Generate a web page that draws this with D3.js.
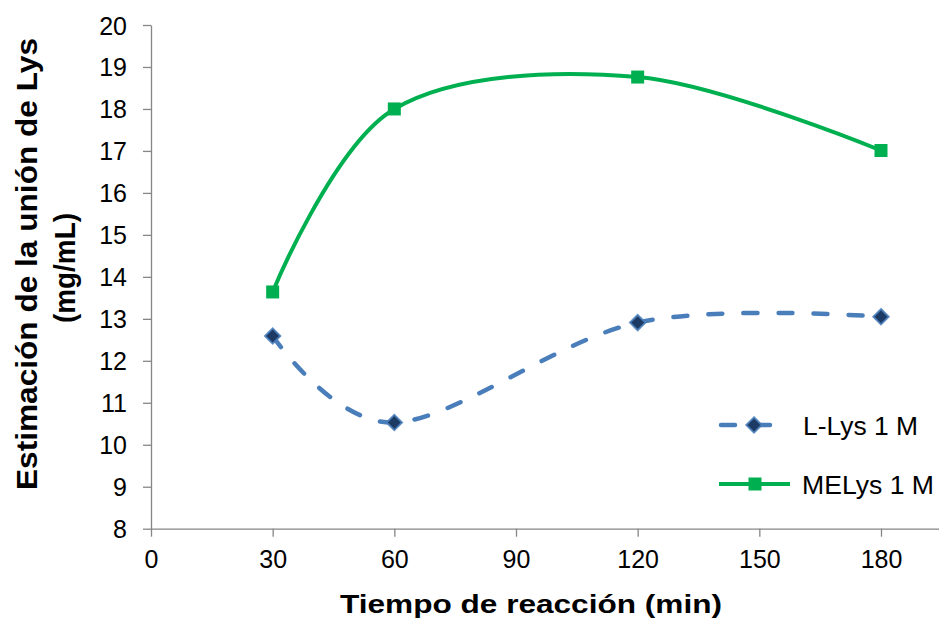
<!DOCTYPE html>
<html>
<head>
<meta charset="utf-8">
<script src="https://cdn.jsdelivr.net/npm/d3@7"></script>
<style>
  html, body { margin: 0; padding: 0; background: #fff; }
  svg { display: block; font-family: "Liberation Sans", Arial, sans-serif; }
</style>
</head>
<body>
<svg id="chart" width="939" height="621"></svg>
<script>
// Reaction time (min)
const times = [30, 60, 120, 180];
// Lys binding estimate (mg/mL)
const lLys = [12.59, 10.53, 12.91, 13.05];
const meLys = [13.64, 18.0, 18.76, 17.01];
const seriesNames = ["L-Lys 1 M", "MELys 1 M"];
const xTicks = [0, 30, 60, 90, 120, 150, 180];
const yTicks = [8, 9, 10, 11, 12, 13, 14, 15, 16, 17, 18, 19, 20];

const svg = d3.select("#chart");
const axisColor = "#868686";
const blue = "#4a7ebb";
const navy = "#1c3a63";
const green = "#00b050";

const x = d3.scaleLinear().domain([0, 180]).range([151, 881]);
const y = d3.scaleLinear().domain([8, 20]).range([528.7, 25]);

// Axes
const yAxis = svg.append("g").attr("transform", "translate(151,0)")
  .call(d3.axisLeft(y).tickValues(yTicks).tickSize(8).tickPadding(16).tickSizeOuter(0));
const xAxis = svg.append("g").attr("transform", "translate(0,528.7)")
  .call(d3.axisBottom(x).tickValues(xTicks).tickSize(8).tickPadding(14).tickSizeOuter(0));
xAxis.select(".domain").attr("d", "M151,0.5H939");
[xAxis, yAxis].forEach(g => {
  g.selectAll(".domain, .tick line").attr("stroke", axisColor).attr("stroke-width", 1.3);
  g.selectAll(".tick text").attr("fill", "#000").attr("font-size", 25)
    .attr("font-family", "'Liberation Sans', Arial, sans-serif");
});
yAxis.selectAll(".tick text").attr("dy", "0.36em");
xAxis.selectAll(".tick text").attr("dy", "0.7em");

// Axis titles
svg.append("text").attr("x", 531).attr("y", 613).attr("text-anchor", "middle")
  .attr("font-size", 26).attr("font-weight", "bold")
  .attr("textLength", 382).attr("lengthAdjust", "spacingAndGlyphs")
  .text("Tiempo de reacción (min)");
svg.append("text").attr("transform", "translate(37,264) rotate(-90)").attr("text-anchor", "middle")
  .attr("font-size", 30).attr("font-weight", "bold")
  .attr("textLength", 452).attr("lengthAdjust", "spacingAndGlyphs")
  .text("Estimación de la unión de Lys");
svg.append("text").attr("transform", "translate(75,268) rotate(-90)").attr("text-anchor", "middle")
  .attr("font-size", 30).attr("font-weight", "bold")
  .attr("textLength", 110).attr("lengthAdjust", "spacingAndGlyphs")
  .text("(mg/mL)");

// Smoothed series lines
const line = d3.line().x(d => x(d[0])).y(d => y(d[1])).curve(d3.curveCardinal.tension(0));
const lData = times.map((t, i) => [t, lLys[i]]);
const mData = times.map((t, i) => [t, meLys[i]]);

svg.append("path").datum(lData).attr("d", line).attr("fill", "none")
  .attr("stroke", blue).attr("stroke-width", 4.5)
  .attr("stroke-dasharray", "14,21").attr("stroke-linecap", "round");
svg.append("path").datum(mData).attr("d", line).attr("fill", "none")
  .attr("stroke", green).attr("stroke-width", 4);

// Markers
const diamond = d3.symbol().type(d3.symbolDiamond2).size(150);
function diamondAt(cx, cy) {
  svg.append("path").attr("d", diamond).attr("transform", `translate(${cx},${cy})`)
    .attr("fill", navy).attr("stroke", blue).attr("stroke-width", 2).attr("stroke-opacity", 0.85);
}
function squareAt(cx, cy) {
  svg.append("rect").attr("x", cx - 6.5).attr("y", cy - 6.5).attr("width", 13).attr("height", 13)
    .attr("fill", green);
}
lData.forEach(d => diamondAt(x(d[0]), y(d[1])));
mData.forEach(d => squareAt(x(d[0]), y(d[1])));

// Legend
const legend = svg.append("g");
legend.append("line").attr("x1", 721).attr("x2", 790).attr("y1", 425).attr("y2", 425)
  .attr("stroke", blue).attr("stroke-width", 4.5)
  .attr("stroke-dasharray", "14,21").attr("stroke-linecap", "round");
diamondAt(754, 425);
legend.append("text").attr("x", 803).attr("y", 435).attr("font-size", 25)
  .attr("textLength", 115).attr("lengthAdjust", "spacingAndGlyphs").text(seriesNames[0]);
legend.append("line").attr("x1", 719).attr("x2", 790).attr("y1", 484).attr("y2", 484)
  .attr("stroke", green).attr("stroke-width", 4);
squareAt(755, 484);
legend.append("text").attr("x", 802).attr("y", 494).attr("font-size", 25)
  .attr("textLength", 132).attr("lengthAdjust", "spacingAndGlyphs").text(seriesNames[1]);
</script>
</body>
</html>
